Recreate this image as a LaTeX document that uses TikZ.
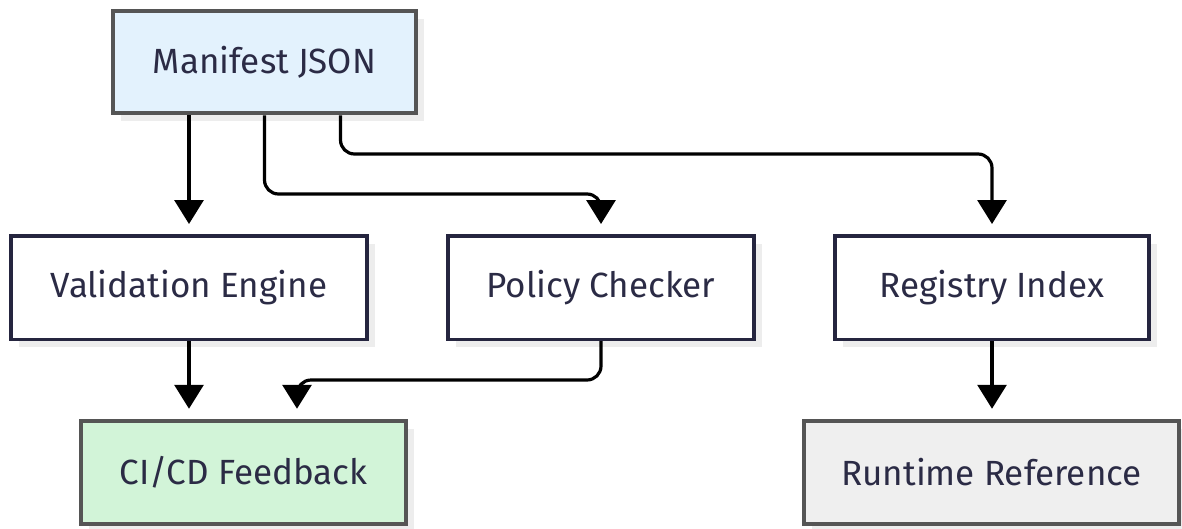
\documentclass[tikz,border=0pt]{standalone}
\usepackage{fontspec}
\setmainfont{Fira Sans}
\usetikzlibrary{arrows.meta,shadows}
\definecolor{ink}{HTML}{2B2B45}
\definecolor{navy}{HTML}{25253F}
\definecolor{edgegray}{HTML}{555555}
\definecolor{bluefill}{HTML}{E3F2FD}
\definecolor{greenfill}{HTML}{D2F4D8}
\definecolor{grayfill}{HTML}{EFEFEF}
\definecolor{shade}{HTML}{EDEDED}
\tikzset{
  box/.style={rectangle, inner sep=0pt, text=ink,
    font=\fontsize{35}{40}\selectfont,
    general shadow={fill=shade, shadow xshift=8pt, shadow yshift=-8pt}},
  plainbox/.style={box, draw=navy, line width=3.5pt, fill=white},
  accentbox/.style={box, draw=edgegray, line width=4.5pt},
  conn/.style={draw=black, line width=3.2pt, rounded corners=14pt,
    -{Triangle[length=24pt,width=29pt]}, shorten >=10pt}
}
\begin{document}
\begin{tikzpicture}[x=1pt,y=-1pt]
  \useasboundingbox (0,0) rectangle (1182,528);

  % nodes
  \node[accentbox, fill=bluefill, minimum width=303pt, minimum height=102pt]
    (m) at (264.5,62) {Manifest JSON};
  \node[plainbox, minimum width=356pt, minimum height=103.5pt]
    (v) at (189,287.5) {Validation Engine};
  \node[plainbox, minimum width=306pt, minimum height=103.5pt]
    (p) at (601,287.5) {Policy Checker};
  \node[plainbox, minimum width=314pt, minimum height=103.5pt]
    (r) at (992,287.5) {Registry Index};
  \node[accentbox, fill=greenfill, minimum width=325pt, minimum height=103pt]
    (c) at (243.5,472.5) {CI/CD Feedback};
  \node[accentbox, fill=grayfill, minimum width=375pt, minimum height=103pt]
    (rt) at (991.5,472.5) {Runtime Reference};

  % bend points of the routed connectors
  \coordinate (pbend) at (601,194);
  \coordinate (rbend) at (992,154);
  \coordinate (cbend) at (297,380);

  % connectors
  \draw[conn] (m.south -| v.north) -- (v.north);
  \draw[conn] (m.south) |- (pbend) -- (p.north);
  \draw[conn] ([xshift=76pt]m.south) |- (rbend) -- (r.north);
  \draw[conn] (v.south) -- (v.south |- c.north);
  \draw[conn] (p.south) |- (cbend) -- (cbend |- c.north);
  \draw[conn] (r.south) -- (r.south |- rt.north);
\end{tikzpicture}
\end{document}
